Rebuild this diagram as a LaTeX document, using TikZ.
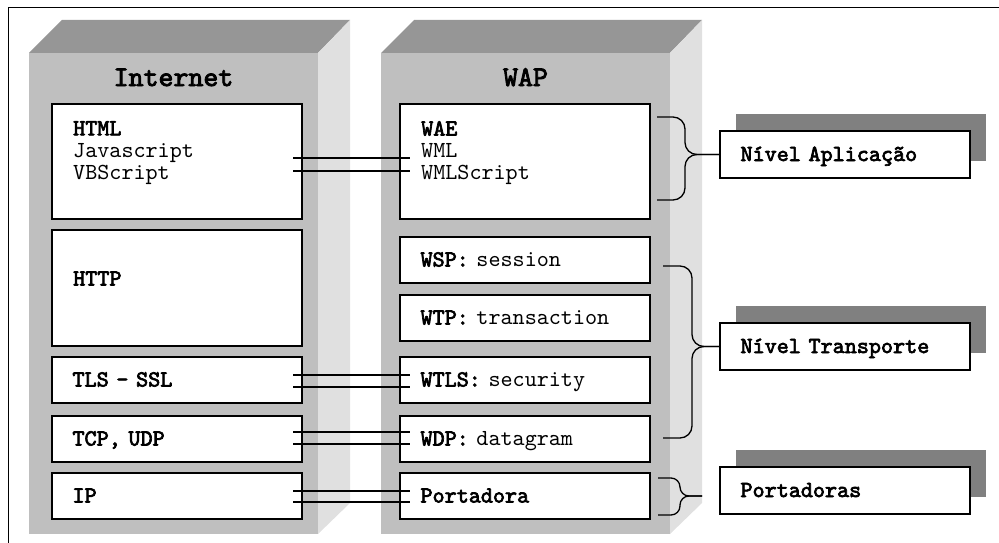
\documentclass[tikz,border=0pt]{standalone}
\usepackage{fontspec}
\setmonofont{lmmono10-regular.otf}[BoldFont=lmmono10-regular.otf, BoldFeatures={FakeBold=3}]
\usetikzlibrary{positioning,shadows}

\definecolor{colfront}{gray}{0.75}
\definecolor{coltop}{gray}{0.59}
\definecolor{colside}{gray}{0.88}
\definecolor{shadegray}{gray}{0.5}

\newcommand\protofont{\ttfamily\fontsize{23pt}{22pt}\selectfont}
\newcommand\headfont{\ttfamily\bfseries\fontsize{28.5pt}{30pt}\selectfont}

\tikzset{
  layer/.style={draw, line width=1.5pt, fill=white, outer sep=0pt, anchor=north west,
    minimum width=250pt, minimum height=46pt, inner xsep=20.5pt, text width=209pt,
    align=left, text height=13pt, text depth=0pt, font=\protofont},
  tall/.style={layer, minimum height=115pt},
  txt/.style={inner sep=0pt, align=left, font=\protofont},
  level/.style={layer, minimum height=47pt, inner xsep=19pt, font=\protofont\bfseries,
    drop shadow={shadow xshift=16pt, shadow yshift=17pt, fill=shadegray, opacity=1}},
  link/.style={line width=1.6pt},
  brace/.style={line width=1.3pt, rounded corners=12pt},
}

\begin{document}
\begin{tikzpicture}[x=1pt, y=-1pt]
\useasboundingbox (0,0) rectangle (999,543);
\draw[line width=1pt] (8,543) -- (8,8) -- (999,8);

% the two stacks
\foreach \dx/\name/\title in {0/inet/Internet, 352/wap/WAP} {
  \begin{scope}[xshift=\dx pt]
    \fill[colfront] (29,53) rectangle (318,534);
    \fill[coltop] (29,53) -- (62,20) -- (350,20) -- (318,53) -- cycle;
    \fill[colside] (318,53) -- (350,20) -- (350,503) -- (318,534) -- cycle;
    \node[font=\headfont, anchor=base, inner sep=0pt] (\name head) at (173.5,86) {\title};
  \end{scope}
}

% Internet
\node[tall] (html) at (52,104) {};
\node[tall, minimum height=116pt, below=11pt of html] (http) {};
\node[layer, below=11pt of http] (tls) {\textbf{TLS - SSL}};
\node[layer, below=13pt of tls] (tcp) {\textbf{TCP, UDP}};
\node[layer, below=11pt of tcp] (ip) {\textbf{IP}};
\node[txt, anchor=north west] (htmltxt) at ([shift={(21pt,-17pt)}]html.north west)
  {\textbf{HTML}\\Javascript\\VBScript};
\node[txt, anchor=west, text height=13pt, text depth=0pt] (httptxt)
  at ([shift={(21pt,9pt)}]http.west) {\textbf{HTTP}};

% WAP
\node[tall] (wae) at (400,104) {};
\node[layer, below=18pt of wae] (wsp) {\textbf{WSP:} session};
\node[layer, below=12pt of wsp] (wtp) {\textbf{WTP:} transaction};
\node[layer, below=16pt of wtp] (wtls) {\textbf{WTLS:} security};
\node[layer, below=13pt of wtls] (wdp) {\textbf{WDP:} datagram};
\node[layer, below=11pt of wdp] (port) {\textbf{Portadora}};
\node[txt, anchor=north west] (waetxt) at ([shift={(21pt,-17pt)}]wae.north west)
  {\textbf{WAE}\\WML\\WMLScript};

% levels
\node[level] (app) at (720,131) {Nível Aplicação};
\node[level] (transp) at (720,323) {Nível Transporte};
\node[level] (bearer) at (720,467) {Portadoras};

% double links
\foreach \l/\r/\up/\dn in {html/wae/3.5/-9.5, tls/wtls/5/-7, tcp/wdp/7/-5, ip/port/5/-6} {
  \draw[link] ([shift={(-9pt,\up pt)}]\l.east) -- ([shift={(10pt,\up pt)}]\r.west);
  \draw[link] ([shift={(-9pt,\dn pt)}]\l.east) -- ([shift={(10pt,\dn pt)}]\r.west);
}

% braces
\coordinate (appmid) at ([xshift=-35pt]app.west);
\draw[brace] ([shift={(7pt,-13pt)}]wae.north east) -| (appmid) -- (app.west);
\draw[brace] ([shift={(7pt,19pt)}]wae.south east) -| (appmid) -- (app.west);

\coordinate (transpmid) at ([xshift=-28pt]transp.west);
\draw[brace] ([shift={(13pt,-6pt)}]wsp.east) -| (transpmid) -- (transp.west);
\draw[brace] ([shift={(13pt,1pt)}]wdp.east) -| (transpmid) -- (transp.west);

\coordinate (porttip) at ([xshift=52pt]port.east);
\coordinate (portmid) at ([xshift=-22pt]porttip);
\draw[brace, rounded corners=9pt] ([shift={(8pt,-5pt)}]port.north east) -| (portmid) -- (porttip);
\draw[brace, rounded corners=9pt] ([shift={(8pt,4pt)}]port.south east) -| (portmid) -- (porttip);
\end{tikzpicture}
\end{document}
